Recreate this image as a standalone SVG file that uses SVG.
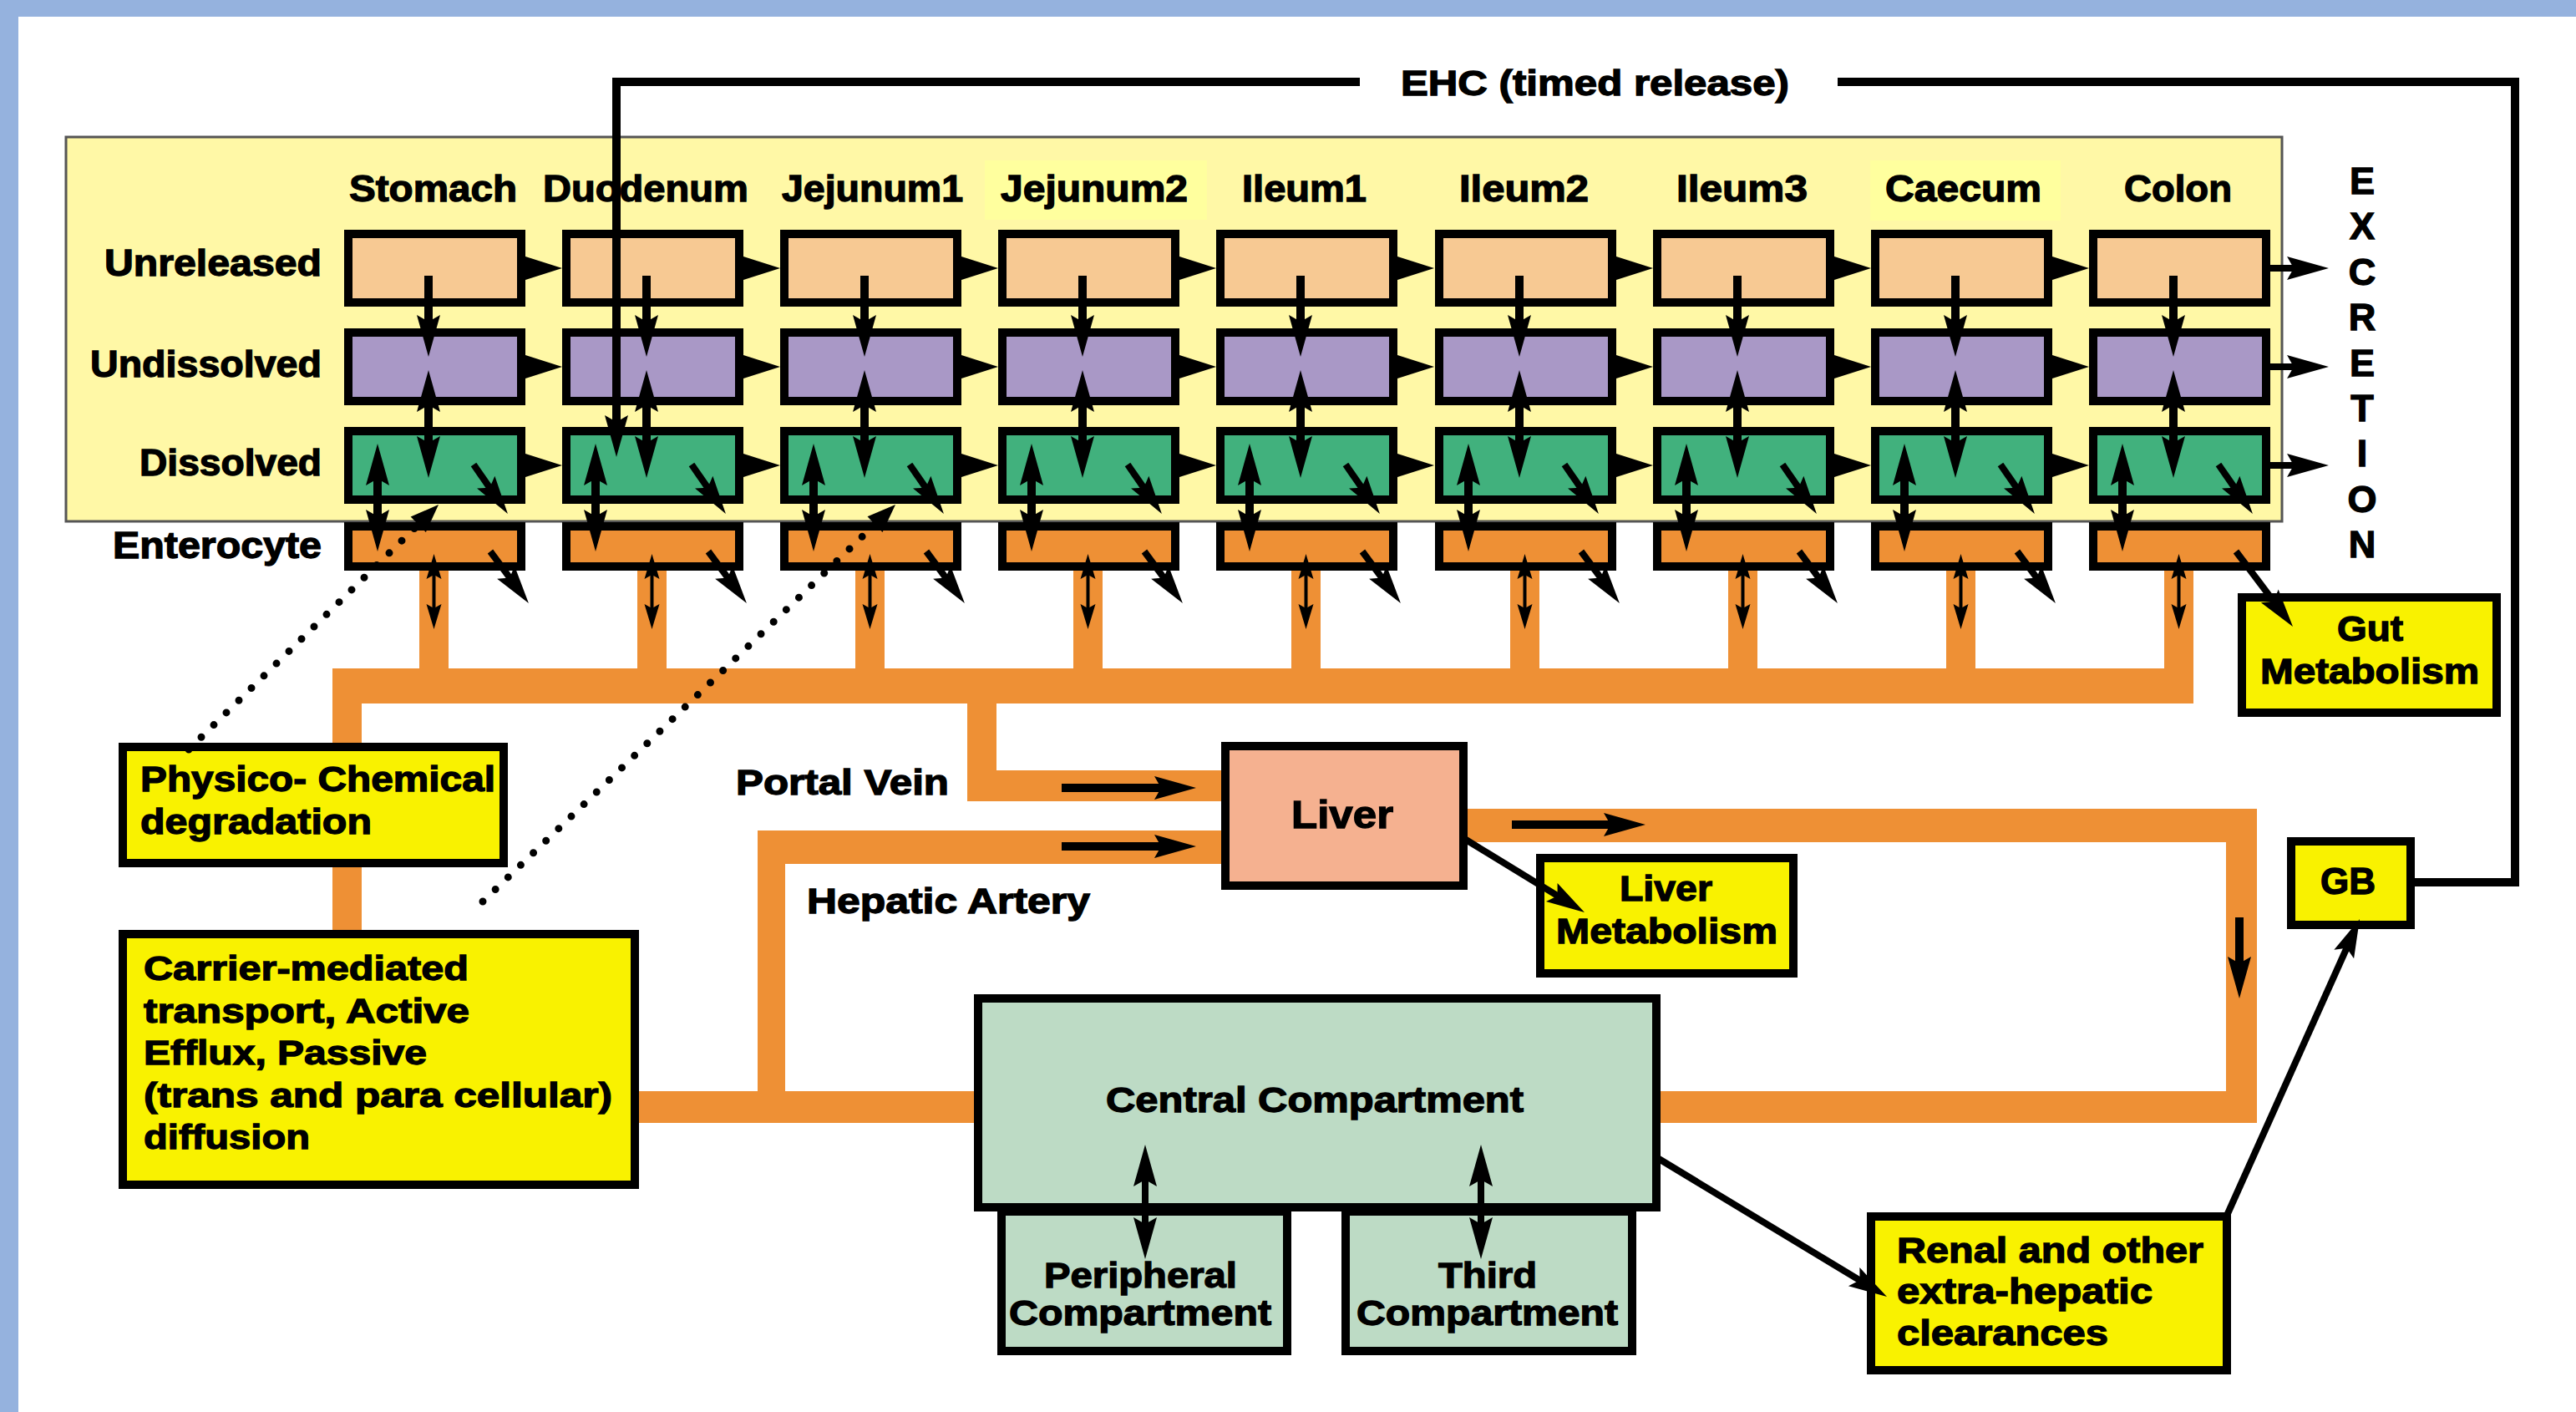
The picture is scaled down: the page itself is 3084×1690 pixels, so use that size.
<svg xmlns="http://www.w3.org/2000/svg" width="3084" height="1690" viewBox="0 0 3084 1690">
<style>
.t{font-family:"Liberation Sans",Arial,sans-serif;font-weight:bold;fill:#000;stroke:#000;stroke-width:1.3}
.box{stroke:#000;stroke-width:10}
.unrel{fill:#F7C993}
.undis{fill:#A998C6}
.dis{fill:#41B17D}
.ent{fill:#EE9035}
.yel{fill:#F9F200}
.cmp{fill:#BDDBC5}
.pipe{fill:#EE9035}
.ln{stroke:#000;stroke-width:10;fill:none}
.l8{stroke:#000;stroke-width:8;fill:none}
.l4{stroke:#000;stroke-width:4;fill:none}
.dots{stroke:#000;stroke-width:9;stroke-linecap:round;stroke-dasharray:0 21;fill:none}
.hl{fill:#FFFF9E}
</style>
<defs>
<marker id="ah" markerUnits="userSpaceOnUse" viewBox="-12 -16 54 32" markerWidth="54" markerHeight="32" refX="0" refY="0" orient="auto-start-reverse"><path d="M40,0 L-10,-14 L-2,0 L-10,14 Z" fill="#000"/></marker>
<marker id="am" markerUnits="userSpaceOnUse" viewBox="-12 -15 50 30" markerWidth="50" markerHeight="30" refX="0" refY="0" orient="auto-start-reverse"><path d="M36,0 L-10,-13 L-2,0 L-10,13 Z" fill="#000"/></marker>
<marker id="as" markerUnits="userSpaceOnUse" viewBox="-8 -10 34 20" markerWidth="34" markerHeight="20" refX="0" refY="0" orient="auto-start-reverse"><path d="M24,0 L-6,-9 L-1,0 L-6,9 Z" fill="#000"/></marker>
<marker id="ad" markerUnits="userSpaceOnUse" viewBox="-6 -14 38 28" markerWidth="38" markerHeight="28" refX="0" refY="0" orient="auto"><path d="M30,0 L-4,-13 L-4,13 Z" fill="#000"/></marker>
<path id="tri" d="M0,-14 L44,0 L0,14 Z" fill="#000"/>
</defs>

<rect x="0" y="0" width="3084" height="1690" fill="#fff"/>
<rect x="0" y="0" width="3084" height="20" fill="#95B2DE"/>
<rect x="0" y="0" width="22" height="1690" fill="#95B2DE"/>

<g id="gi-panel">
<rect x="79" y="164" width="2653" height="460" fill="#FFF8A6" stroke="#555" stroke-width="3"/>
<rect class="hl" x="1179" y="192" width="266" height="71"/>
<rect class="hl" x="2239" y="192" width="228" height="72"/>
</g>

<g id="pipes">
<rect class="pipe" x="502" y="678" width="35" height="124"/>
<rect class="pipe" x="763" y="678" width="35" height="124"/>
<rect class="pipe" x="1024" y="678" width="35" height="124"/>
<rect class="pipe" x="1285" y="678" width="35" height="124"/>
<rect class="pipe" x="1546" y="678" width="35" height="124"/>
<rect class="pipe" x="1808" y="678" width="35" height="124"/>
<rect class="pipe" x="2069" y="678" width="35" height="124"/>
<rect class="pipe" x="2330" y="678" width="35" height="124"/>
<rect class="pipe" x="2591" y="678" width="35" height="124"/>
<rect class="pipe" x="398" y="800" width="2228" height="42"/>
<rect class="pipe" x="398" y="800" width="35" height="318"/>
<rect class="pipe" x="1158" y="838" width="35" height="121"/>
<rect class="pipe" x="1158" y="922" width="310" height="37"/>
<rect class="pipe" x="907" y="994" width="33" height="350"/>
<rect class="pipe" x="907" y="994" width="560" height="40"/>
<rect class="pipe" x="760" y="1306" width="410" height="38"/>
<rect class="pipe" x="1984" y="1306" width="718" height="38"/>
<rect class="pipe" x="2665" y="968" width="37" height="376"/>
<rect class="pipe" x="1752" y="968" width="950" height="40"/>
</g>

<g id="labels">
<text class="t" x="418" y="241" font-size="44" textLength="201" lengthAdjust="spacingAndGlyphs">Stomach</text>
<text class="t" x="650" y="241" font-size="44" textLength="246" lengthAdjust="spacingAndGlyphs">Duodenum</text>
<text class="t" x="936" y="241" font-size="44" textLength="217" lengthAdjust="spacingAndGlyphs">Jejunum1</text>
<text class="t" x="1198" y="241" font-size="44" textLength="224" lengthAdjust="spacingAndGlyphs">Jejunum2</text>
<text class="t" x="1487" y="241" font-size="44" textLength="149" lengthAdjust="spacingAndGlyphs">Ileum1</text>
<text class="t" x="1747" y="241" font-size="44" textLength="155" lengthAdjust="spacingAndGlyphs">Ileum2</text>
<text class="t" x="2007" y="241" font-size="44" textLength="157" lengthAdjust="spacingAndGlyphs">Ileum3</text>
<text class="t" x="2257" y="241" font-size="44" textLength="187" lengthAdjust="spacingAndGlyphs">Caecum</text>
<text class="t" x="2543" y="241" font-size="44" textLength="129" lengthAdjust="spacingAndGlyphs">Colon</text>
<text class="t" x="125" y="330" font-size="44" textLength="260" lengthAdjust="spacingAndGlyphs">Unreleased</text>
<text class="t" x="108" y="451" font-size="44" textLength="277" lengthAdjust="spacingAndGlyphs">Undissolved</text>
<text class="t" x="167" y="569" font-size="44" textLength="218" lengthAdjust="spacingAndGlyphs">Dissolved</text>
<text class="t" x="135" y="668" font-size="44" textLength="250" lengthAdjust="spacingAndGlyphs">Enterocyte</text>
<text class="t" x="1677" y="114" font-size="42" textLength="465" lengthAdjust="spacingAndGlyphs">EHC (timed release)</text>
<text class="t" x="881" y="951" font-size="42" textLength="255" lengthAdjust="spacingAndGlyphs">Portal Vein</text>
<text class="t" x="966" y="1093" font-size="42" textLength="339" lengthAdjust="spacingAndGlyphs">Hepatic Artery</text>
<g font-size="45" text-anchor="middle">
<text class="t" x="2828" y="232">E</text>
<text class="t" x="2828" y="286">X</text>
<text class="t" x="2828" y="341">C</text>
<text class="t" x="2828" y="395">R</text>
<text class="t" x="2828" y="450">E</text>
<text class="t" x="2828" y="504">T</text>
<text class="t" x="2828" y="558">I</text>
<text class="t" x="2828" y="613">O</text>
<text class="t" x="2828" y="667">N</text>
</g>
</g>

<g id="col-stomach">
<g id="stomach-unreleased"><rect class="box unrel" x="417" y="280" width="207" height="82"/></g>
<g id="stomach-undissolved"><rect class="box undis" x="417" y="398" width="207" height="82"/></g>
<g id="stomach-dissolved"><rect class="box dis" x="417" y="516" width="207" height="82"/></g>
<g id="stomach-enterocyte"><rect class="box ent" x="417" y="630" width="207" height="48"/></g>
</g>
<g id="col-duodenum">
<g id="duodenum-unreleased"><rect class="box unrel" x="678" y="280" width="207" height="82"/></g>
<g id="duodenum-undissolved"><rect class="box undis" x="678" y="398" width="207" height="82"/></g>
<g id="duodenum-dissolved"><rect class="box dis" x="678" y="516" width="207" height="82"/></g>
<g id="duodenum-enterocyte"><rect class="box ent" x="678" y="630" width="207" height="48"/></g>
</g>
<g id="col-jejunum1">
<g id="jejunum1-unreleased"><rect class="box unrel" x="939" y="280" width="207" height="82"/></g>
<g id="jejunum1-undissolved"><rect class="box undis" x="939" y="398" width="207" height="82"/></g>
<g id="jejunum1-dissolved"><rect class="box dis" x="939" y="516" width="207" height="82"/></g>
<g id="jejunum1-enterocyte"><rect class="box ent" x="939" y="630" width="207" height="48"/></g>
</g>
<g id="col-jejunum2">
<g id="jejunum2-unreleased"><rect class="box unrel" x="1200" y="280" width="207" height="82"/></g>
<g id="jejunum2-undissolved"><rect class="box undis" x="1200" y="398" width="207" height="82"/></g>
<g id="jejunum2-dissolved"><rect class="box dis" x="1200" y="516" width="207" height="82"/></g>
<g id="jejunum2-enterocyte"><rect class="box ent" x="1200" y="630" width="207" height="48"/></g>
</g>
<g id="col-ileum1">
<g id="ileum1-unreleased"><rect class="box unrel" x="1461" y="280" width="207" height="82"/></g>
<g id="ileum1-undissolved"><rect class="box undis" x="1461" y="398" width="207" height="82"/></g>
<g id="ileum1-dissolved"><rect class="box dis" x="1461" y="516" width="207" height="82"/></g>
<g id="ileum1-enterocyte"><rect class="box ent" x="1461" y="630" width="207" height="48"/></g>
</g>
<g id="col-ileum2">
<g id="ileum2-unreleased"><rect class="box unrel" x="1723" y="280" width="207" height="82"/></g>
<g id="ileum2-undissolved"><rect class="box undis" x="1723" y="398" width="207" height="82"/></g>
<g id="ileum2-dissolved"><rect class="box dis" x="1723" y="516" width="207" height="82"/></g>
<g id="ileum2-enterocyte"><rect class="box ent" x="1723" y="630" width="207" height="48"/></g>
</g>
<g id="col-ileum3">
<g id="ileum3-unreleased"><rect class="box unrel" x="1984" y="280" width="207" height="82"/></g>
<g id="ileum3-undissolved"><rect class="box undis" x="1984" y="398" width="207" height="82"/></g>
<g id="ileum3-dissolved"><rect class="box dis" x="1984" y="516" width="207" height="82"/></g>
<g id="ileum3-enterocyte"><rect class="box ent" x="1984" y="630" width="207" height="48"/></g>
</g>
<g id="col-caecum">
<g id="caecum-unreleased"><rect class="box unrel" x="2245" y="280" width="207" height="82"/></g>
<g id="caecum-undissolved"><rect class="box undis" x="2245" y="398" width="207" height="82"/></g>
<g id="caecum-dissolved"><rect class="box dis" x="2245" y="516" width="207" height="82"/></g>
<g id="caecum-enterocyte"><rect class="box ent" x="2245" y="630" width="207" height="48"/></g>
</g>
<g id="col-colon">
<g id="colon-unreleased"><rect class="box unrel" x="2506" y="280" width="207" height="82"/></g>
<g id="colon-undissolved"><rect class="box undis" x="2506" y="398" width="207" height="82"/></g>
<g id="colon-dissolved"><rect class="box dis" x="2506" y="516" width="207" height="82"/></g>
<g id="colon-enterocyte"><rect class="box ent" x="2506" y="630" width="207" height="48"/></g>
</g>

<g id="physico">
<rect class="box yel" x="147" y="894" width="456" height="139"/>
<text class="t" x="168" y="947" font-size="42" textLength="425" lengthAdjust="spacingAndGlyphs">Physico- Chemical</text>
<text class="t" x="168" y="998" font-size="42" textLength="277" lengthAdjust="spacingAndGlyphs">degradation</text>
</g>
<g id="carrier">
<rect class="box yel" x="147" y="1118" width="613" height="300"/>
<text class="t" x="172" y="1173" font-size="41" textLength="389" lengthAdjust="spacingAndGlyphs">Carrier-mediated</text>
<text class="t" x="172" y="1224" font-size="41" textLength="390" lengthAdjust="spacingAndGlyphs">transport, Active</text>
<text class="t" x="172" y="1274" font-size="41" textLength="339" lengthAdjust="spacingAndGlyphs">Efflux, Passive</text>
<text class="t" x="172" y="1325" font-size="41" textLength="561" lengthAdjust="spacingAndGlyphs">(trans and para cellular)</text>
<text class="t" x="172" y="1375" font-size="41" textLength="199" lengthAdjust="spacingAndGlyphs">diffusion</text>
</g>
<g id="liver">
<rect class="box" fill="#F5B190" x="1467" y="893" width="285" height="167"/>
<text class="t" x="1546" y="991" font-size="46" textLength="122" lengthAdjust="spacingAndGlyphs">Liver</text>
</g>
<g id="liver-metabolism">
<rect class="box yel" x="1844" y="1027" width="303" height="138"/>
<text class="t" x="1939" y="1078" font-size="42" textLength="111" lengthAdjust="spacingAndGlyphs">Liver</text>
<text class="t" x="1863" y="1129" font-size="42" textLength="265" lengthAdjust="spacingAndGlyphs">Metabolism</text>
</g>
<g id="gut-metabolism">
<rect class="box yel" x="2684" y="715" width="305" height="138"/>
<text class="t" x="2798" y="767" font-size="42" textLength="79" lengthAdjust="spacingAndGlyphs">Gut</text>
<text class="t" x="2706" y="818" font-size="42" textLength="262" lengthAdjust="spacingAndGlyphs">Metabolism</text>
</g>
<g id="gb">
<rect class="box yel" x="2743" y="1007" width="143" height="100"/>
<text class="t" x="2778" y="1070" font-size="44" textLength="66" lengthAdjust="spacingAndGlyphs">GB</text>
</g>
<g id="peripheral">
<rect class="box cmp" x="1199" y="1450" width="342" height="167"/>
<text class="t" x="1250" y="1541" font-size="43" textLength="231" lengthAdjust="spacingAndGlyphs">Peripheral</text>
<text class="t" x="1208" y="1586" font-size="43" textLength="314" lengthAdjust="spacingAndGlyphs">Compartment</text>
</g>
<g id="third">
<rect class="box cmp" x="1611" y="1450" width="343" height="167"/>
<text class="t" x="1722" y="1541" font-size="43" textLength="118" lengthAdjust="spacingAndGlyphs">Third</text>
<text class="t" x="1624" y="1586" font-size="43" textLength="313" lengthAdjust="spacingAndGlyphs">Compartment</text>
</g>
<g id="central">
<rect class="box cmp" x="1171" y="1195" width="812" height="250"/>
<text class="t" x="1324" y="1331" font-size="43" textLength="500" lengthAdjust="spacingAndGlyphs">Central Compartment</text>
</g>
<g id="renal">
<rect class="box yel" x="2240" y="1456" width="426" height="184"/>
<text class="t" x="2271" y="1511" font-size="42" textLength="367" lengthAdjust="spacingAndGlyphs">Renal and other</text>
<text class="t" x="2271" y="1560" font-size="42" textLength="306" lengthAdjust="spacingAndGlyphs">extra-hepatic</text>
<text class="t" x="2271" y="1610" font-size="42" textLength="253" lengthAdjust="spacingAndGlyphs">clearances</text>
</g>

<g id="connectors">
<use href="#tri" x="629" y="321"/><use href="#tri" x="629" y="439"/><use href="#tri" x="629" y="557"/>
<use href="#tri" x="890" y="321"/><use href="#tri" x="890" y="439"/><use href="#tri" x="890" y="557"/>
<use href="#tri" x="1151" y="321"/><use href="#tri" x="1151" y="439"/><use href="#tri" x="1151" y="557"/>
<use href="#tri" x="1412" y="321"/><use href="#tri" x="1412" y="439"/><use href="#tri" x="1412" y="557"/>
<use href="#tri" x="1673" y="321"/><use href="#tri" x="1673" y="439"/><use href="#tri" x="1673" y="557"/>
<use href="#tri" x="1935" y="321"/><use href="#tri" x="1935" y="439"/><use href="#tri" x="1935" y="557"/>
<use href="#tri" x="2196" y="321"/><use href="#tri" x="2196" y="439"/><use href="#tri" x="2196" y="557"/>
<use href="#tri" x="2457" y="321"/><use href="#tri" x="2457" y="439"/><use href="#tri" x="2457" y="557"/>

<line class="l8" x1="2718" y1="321" x2="2748" y2="321" marker-end="url(#ah)"/>
<line class="l8" x1="2718" y1="439" x2="2748" y2="439" marker-end="url(#ah)"/>
<line class="l8" x1="2718" y1="557" x2="2748" y2="557" marker-end="url(#ah)"/>

<g id="arrows-stomach">
<line class="ln" x1="513" y1="330" x2="513" y2="387" marker-end="url(#ah)"/>
<line class="ln" x1="513" y1="483" x2="513" y2="532" marker-start="url(#ah)" marker-end="url(#ah)"/>
<line class="ln" x1="452" y1="571" x2="452" y2="620" marker-start="url(#ah)" marker-end="url(#ah)"/>
<line class="l8" x1="567" y1="556" x2="587.4" y2="585.4" marker-end="url(#am)"/>
<line class="l8" x1="587" y1="660" x2="611.5" y2="693.1" marker-end="url(#am)"/>
<line class="l4" x1="519.5" y1="687" x2="519.5" y2="729" marker-start="url(#as)" marker-end="url(#as)"/>
</g>
<g id="arrows-duodenum">
<line class="ln" x1="774" y1="330" x2="774" y2="387" marker-end="url(#ah)"/>
<line class="ln" x1="774" y1="483" x2="774" y2="532" marker-start="url(#ah)" marker-end="url(#ah)"/>
<line class="ln" x1="713" y1="571" x2="713" y2="620" marker-start="url(#ah)" marker-end="url(#ah)"/>
<line class="l8" x1="828" y1="556" x2="848.4" y2="585.4" marker-end="url(#am)"/>
<line class="l8" x1="848" y1="660" x2="872.5" y2="693.1" marker-end="url(#am)"/>
<line class="l4" x1="780.5" y1="687" x2="780.5" y2="729" marker-start="url(#as)" marker-end="url(#as)"/>
</g>
<g id="arrows-jejunum1">
<line class="ln" x1="1035" y1="330" x2="1035" y2="387" marker-end="url(#ah)"/>
<line class="ln" x1="1035" y1="483" x2="1035" y2="532" marker-start="url(#ah)" marker-end="url(#ah)"/>
<line class="ln" x1="974" y1="571" x2="974" y2="620" marker-start="url(#ah)" marker-end="url(#ah)"/>
<line class="l8" x1="1089" y1="556" x2="1109.4" y2="585.4" marker-end="url(#am)"/>
<line class="l8" x1="1109" y1="660" x2="1133.5" y2="693.1" marker-end="url(#am)"/>
<line class="l4" x1="1041.5" y1="687" x2="1041.5" y2="729" marker-start="url(#as)" marker-end="url(#as)"/>
</g>
<g id="arrows-jejunum2">
<line class="ln" x1="1296" y1="330" x2="1296" y2="387" marker-end="url(#ah)"/>
<line class="ln" x1="1296" y1="483" x2="1296" y2="532" marker-start="url(#ah)" marker-end="url(#ah)"/>
<line class="ln" x1="1235" y1="571" x2="1235" y2="620" marker-start="url(#ah)" marker-end="url(#ah)"/>
<line class="l8" x1="1350" y1="556" x2="1370.4" y2="585.4" marker-end="url(#am)"/>
<line class="l8" x1="1370" y1="660" x2="1394.5" y2="693.1" marker-end="url(#am)"/>
<line class="l4" x1="1302.5" y1="687" x2="1302.5" y2="729" marker-start="url(#as)" marker-end="url(#as)"/>
</g>
<g id="arrows-ileum1">
<line class="ln" x1="1557" y1="330" x2="1557" y2="387" marker-end="url(#ah)"/>
<line class="ln" x1="1557" y1="483" x2="1557" y2="532" marker-start="url(#ah)" marker-end="url(#ah)"/>
<line class="ln" x1="1496" y1="571" x2="1496" y2="620" marker-start="url(#ah)" marker-end="url(#ah)"/>
<line class="l8" x1="1611" y1="556" x2="1631.4" y2="585.4" marker-end="url(#am)"/>
<line class="l8" x1="1631" y1="660" x2="1655.5" y2="693.1" marker-end="url(#am)"/>
<line class="l4" x1="1563.5" y1="687" x2="1563.5" y2="729" marker-start="url(#as)" marker-end="url(#as)"/>
</g>
<g id="arrows-ileum2">
<line class="ln" x1="1819" y1="330" x2="1819" y2="387" marker-end="url(#ah)"/>
<line class="ln" x1="1819" y1="483" x2="1819" y2="532" marker-start="url(#ah)" marker-end="url(#ah)"/>
<line class="ln" x1="1758" y1="571" x2="1758" y2="620" marker-start="url(#ah)" marker-end="url(#ah)"/>
<line class="l8" x1="1873" y1="556" x2="1893.4" y2="585.4" marker-end="url(#am)"/>
<line class="l8" x1="1893" y1="660" x2="1917.5" y2="693.1" marker-end="url(#am)"/>
<line class="l4" x1="1825.5" y1="687" x2="1825.5" y2="729" marker-start="url(#as)" marker-end="url(#as)"/>
</g>
<g id="arrows-ileum3">
<line class="ln" x1="2080" y1="330" x2="2080" y2="387" marker-end="url(#ah)"/>
<line class="ln" x1="2080" y1="483" x2="2080" y2="532" marker-start="url(#ah)" marker-end="url(#ah)"/>
<line class="ln" x1="2019" y1="571" x2="2019" y2="620" marker-start="url(#ah)" marker-end="url(#ah)"/>
<line class="l8" x1="2134" y1="556" x2="2154.4" y2="585.4" marker-end="url(#am)"/>
<line class="l8" x1="2154" y1="660" x2="2178.5" y2="693.1" marker-end="url(#am)"/>
<line class="l4" x1="2086.5" y1="687" x2="2086.5" y2="729" marker-start="url(#as)" marker-end="url(#as)"/>
</g>
<g id="arrows-caecum">
<line class="ln" x1="2341" y1="330" x2="2341" y2="387" marker-end="url(#ah)"/>
<line class="ln" x1="2341" y1="483" x2="2341" y2="532" marker-start="url(#ah)" marker-end="url(#ah)"/>
<line class="ln" x1="2280" y1="571" x2="2280" y2="620" marker-start="url(#ah)" marker-end="url(#ah)"/>
<line class="l8" x1="2395" y1="556" x2="2415.4" y2="585.4" marker-end="url(#am)"/>
<line class="l8" x1="2415" y1="660" x2="2439.5" y2="693.1" marker-end="url(#am)"/>
<line class="l4" x1="2347.5" y1="687" x2="2347.5" y2="729" marker-start="url(#as)" marker-end="url(#as)"/>
</g>
<g id="arrows-colon">
<line class="ln" x1="2602" y1="330" x2="2602" y2="387" marker-end="url(#ah)"/>
<line class="ln" x1="2602" y1="483" x2="2602" y2="532" marker-start="url(#ah)" marker-end="url(#ah)"/>
<line class="ln" x1="2541" y1="571" x2="2541" y2="620" marker-start="url(#ah)" marker-end="url(#ah)"/>
<line class="l8" x1="2656" y1="556" x2="2676.4" y2="585.4" marker-end="url(#am)"/>
<line class="l8" x1="2677" y1="660" x2="2723.3" y2="721.3" marker-end="url(#am)"/>
<line class="l4" x1="2608.5" y1="687" x2="2608.5" y2="729" marker-start="url(#as)" marker-end="url(#as)"/>
</g>

<line class="ln" x1="1271" y1="943" x2="1392" y2="943" marker-end="url(#ah)"/>
<line class="ln" x1="1271" y1="1013" x2="1392" y2="1013" marker-end="url(#ah)"/>
<line class="ln" x1="1810" y1="987" x2="1930" y2="987" marker-end="url(#ah)"/>
<line class="ln" x1="2681" y1="1098" x2="2681" y2="1155" marker-end="url(#ah)"/>
<line class="l8" x1="1755" y1="1005" x2="1866.3" y2="1073.2" marker-end="url(#am)"/>
<line class="l8" x1="1986" y1="1387" x2="2228.2" y2="1533.4" marker-end="url(#am)"/>
<line class="l8" x1="2665" y1="1457" x2="2810.3" y2="1132.9" marker-end="url(#am)"/>
<line class="l8" x1="1371" y1="1410" x2="1371" y2="1467" marker-start="url(#ah)" marker-end="url(#ah)"/>
<line class="l8" x1="1773" y1="1410" x2="1773" y2="1467" marker-start="url(#ah)" marker-end="url(#ah)"/>

<path class="ln" d="M1628,98 L738,98 L738,507" marker-end="url(#ah)"/>
<path class="ln" d="M2200,98 L3011,98 L3011,1056 L2891,1056"/>

<path class="dots" d="M226,897 L503.6,625" marker-end="url(#ad)"/>
<path class="dots" d="M578,1079 L1050.4,624.8" marker-end="url(#ad)"/>
</g>
</svg>
